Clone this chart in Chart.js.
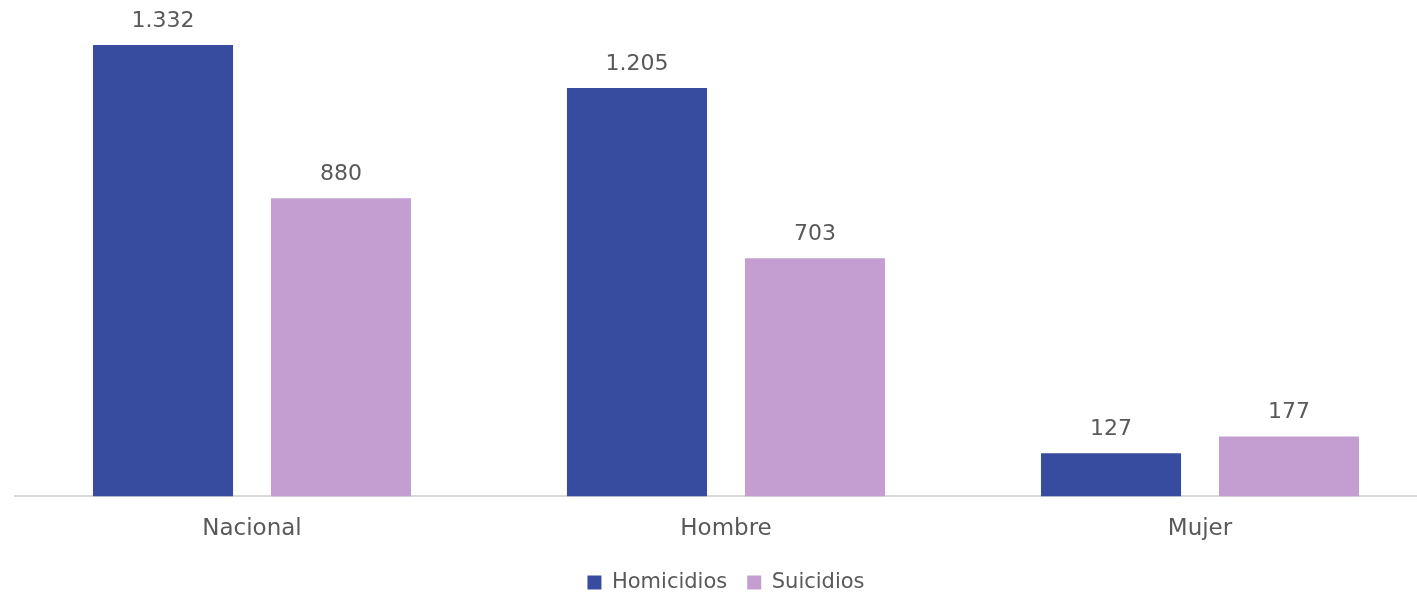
<!DOCTYPE html>
<html>
<head>
<meta charset="utf-8">
<script src="https://cdn.jsdelivr.net/npm/chart.js@4"></script>
<style>
  html, body { margin: 0; padding: 0; background: #fff; overflow: hidden; }
  #wrap { width: 1440px; height: 592px; position: relative; }
</style>
</head>
<body>
<div id="wrap"><canvas id="chart"></canvas></div>
<script>
const categories = ["Nacional", "Hombre", "Mujer"];
const homicidios = [1332, 1205, 127];
const suicidios = [880, 703, 177];

const FONT = "'DejaVu Sans', sans-serif";
const TEXT = "#595959";

// etiquetas de valor encima de las barras (formato es: 1.332)
const valueLabels = {
  id: "valueLabels",
  afterDatasetsDraw(chart) {
    const ctx = chart.ctx;
    ctx.save();
    ctx.font = "22px " + FONT;
    ctx.fillStyle = TEXT;
    ctx.textAlign = "center";
    ctx.textBaseline = "bottom";
    chart.data.datasets.forEach((ds, i) => {
      chart.getDatasetMeta(i).data.forEach((bar, j) => {
        const txt = String(ds.data[j]).replace(/\B(?=(\d{3})+(?!\d))/g, ".");
        ctx.fillText(txt, bar.x, bar.y - 13);
      });
    });
    ctx.restore();
  },
};

new Chart(document.getElementById("chart"), {
  type: "bar",
  data: {
    labels: categories,
    datasets: [
      {
        label: "Homicidios",
        data: homicidios,
        backgroundColor: "#374C9E",
        barPercentage: 0.787,
        categoryPercentage: 0.751,
      },
      {
        label: "Suicidios",
        data: suicidios,
        backgroundColor: "#C59ED1",
        barPercentage: 0.787,
        categoryPercentage: 0.751,
      },
    ],
  },
  options: {
    responsive: true,
    maintainAspectRatio: false,
    animation: false,
    layout: { padding: { left: 15, right: 3, top: 0, bottom: -11 } },
    plugins: {
      legend: {
        position: "bottom",
        // titulo vacio solo para dejar espacio sobre la leyenda
        title: { display: true, text: " ", font: { size: 10 }, padding: { top: 0, bottom: 6 } },
        labels: {
          font: { family: FONT, size: 21 },
          color: TEXT,
          boxWidth: 14,
          boxHeight: 14,
          padding: 0,
          generateLabels(chart) {
            const items = Chart.defaults.plugins.legend.labels.generateLabels(chart);
            items.forEach((it, i) => { if (i < items.length - 1) it.text += "   "; });
            return items;
          },
        },
      },
      tooltip: { enabled: false },
    },
    scales: {
      x: {
        grid: { display: false },
        border: { color: "#D9D9D9", width: 2 },
        ticks: { font: { family: FONT, size: 23 }, color: TEXT, padding: 11 },
      },
      y: {
        display: false,
        min: 0,
        max: 1465,
      },
    },
  },
  plugins: [valueLabels],
});
</script>
</body>
</html>
